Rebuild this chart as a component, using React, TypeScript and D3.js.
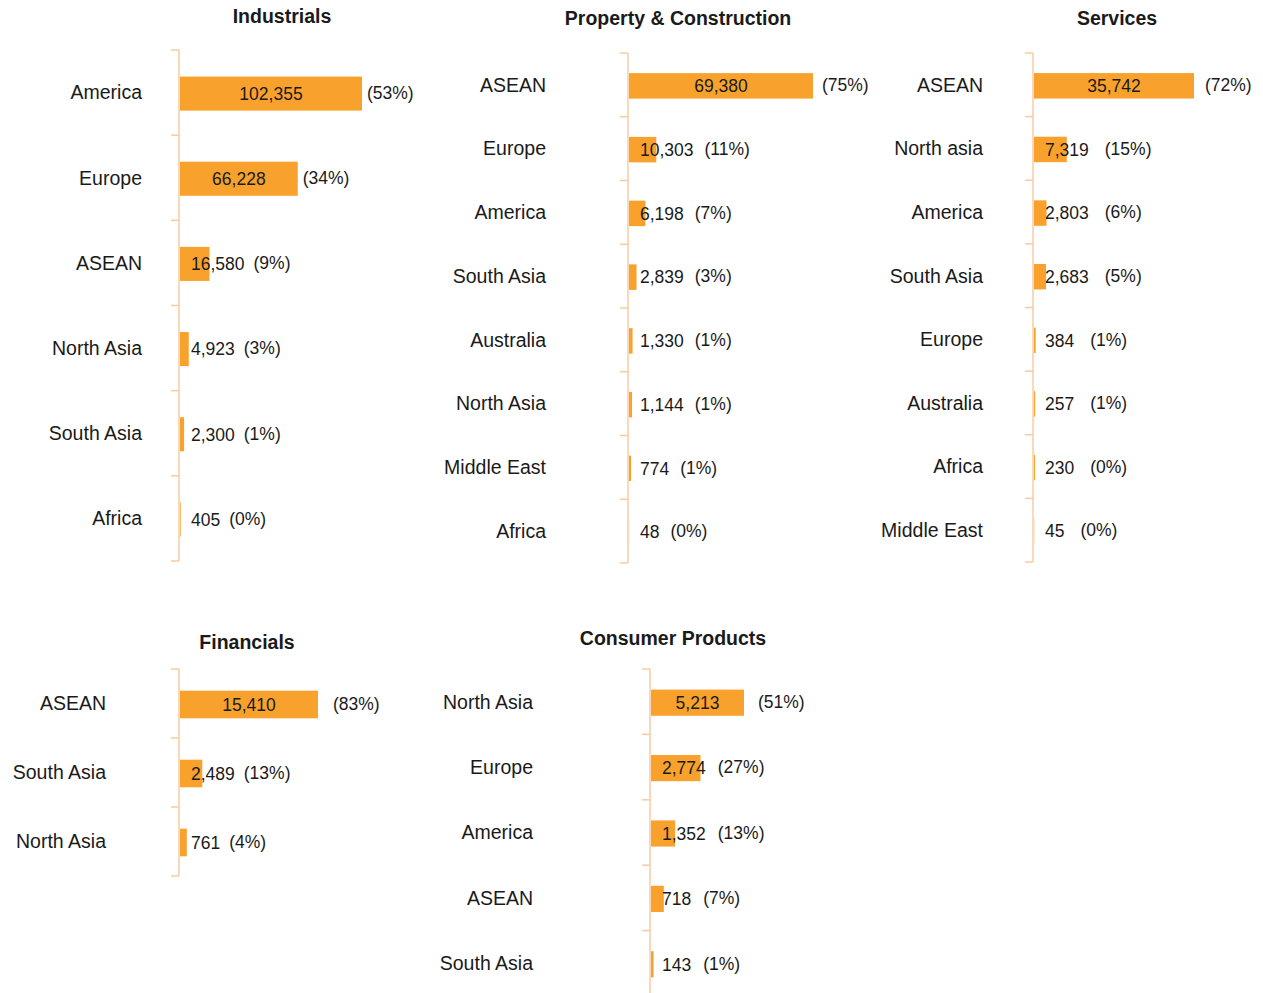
import React from "react";
import * as d3 from "d3";

// ---------- Data ----------
const industrialsCats = ["America", "Europe", "ASEAN", "North Asia", "South Asia", "Africa"];
const industrialsVals = [102355, 66228, 16580, 4923, 2300, 405];
const industrialsPct = ["53%", "34%", "9%", "3%", "1%", "0%"];

const propertyCats = ["ASEAN", "Europe", "America", "South Asia", "Australia", "North Asia", "Middle East", "Africa"];
const propertyVals = [69380, 10303, 6198, 2839, 1330, 1144, 774, 48];
const propertyPct = ["75%", "11%", "7%", "3%", "1%", "1%", "1%", "0%"];

const servicesCats = ["ASEAN", "North asia", "America", "South Asia", "Europe", "Australia", "Africa", "Middle East"];
const servicesVals = [35742, 7319, 2803, 2683, 384, 257, 230, 45];
const servicesPct = ["72%", "15%", "6%", "5%", "1%", "1%", "0%", "0%"];

const financialsCats = ["ASEAN", "South Asia", "North Asia"];
const financialsVals = [15410, 2489, 761];
const financialsPct = ["83%", "13%", "4%"];

const consumerCats = ["North Asia", "Europe", "America", "ASEAN", "South Asia"];
const consumerVals = [5213, 2774, 1352, 718, 143];
const consumerPct = ["51%", "27%", "13%", "7%", "1%"];

// ---------- Layout (styles / positions) ----------
type Panel = {
  title: string;
  cats: string[];
  vals: number[];
  pct: string[];
  axisX: number;
  yTop: number;
  yBottom: number;
  maxW: number;
  labelX: number;
  titleX: number;
  titleY: number;
  gapBar: number;
  gapVal: number;
};

const panels: Panel[] = [
  { title: "Industrials", cats: industrialsCats, vals: industrialsVals, pct: industrialsPct,
    axisX: 180, yTop: 50, yBottom: 561, maxW: 182, labelX: 142, titleX: 282, titleY: 23, gapBar: 5, gapVal: 9 },
  { title: "Property & Construction", cats: propertyCats, vals: propertyVals, pct: propertyPct,
    axisX: 629, yTop: 53, yBottom: 563, maxW: 184, labelX: 546, titleX: 678, titleY: 25, gapBar: 9, gapVal: 11 },
  { title: "Services", cats: servicesCats, vals: servicesVals, pct: servicesPct,
    axisX: 1034, yTop: 53, yBottom: 562, maxW: 160, labelX: 983, titleX: 1117, titleY: 25, gapBar: 11, gapVal: 16 },
  { title: "Financials", cats: financialsCats, vals: financialsVals, pct: financialsPct,
    axisX: 180, yTop: 669, yBottom: 876, maxW: 138, labelX: 106, titleX: 247, titleY: 649, gapBar: 15, gapVal: 9 },
  { title: "Consumer Products", cats: consumerCats, vals: consumerVals, pct: consumerPct,
    axisX: 651, yTop: 669, yBottom: 996, maxW: 93, labelX: 533, titleX: 673, titleY: 645, gapBar: 14, gapVal: 12 },
];

const FONT = "'Liberation Sans', Arial, sans-serif";
const BAR = "#F8A22D";
const AXIS = "#F9CBA3";
const TEXT = "#1a1a1a";
const VAL_SIZE = 17.5;
const CAT_SIZE = 19.5;
const TITLE_SIZE = 19.5;

let ctx: CanvasRenderingContext2D | null = null;
function textW(s: string, size: number): number {
  if (!ctx) {
    const c = document.createElement("canvas");
    ctx = c.getContext("2d");
  }
  if (!ctx) return s.length * size * 0.55;
  ctx.font = `${size}px ${FONT}`;
  return ctx.measureText(s).width;
}

const fmt = d3.format(",");

function PanelView({ p }: { p: Panel }) {
  const y = d3.scaleBand<string>().domain(p.cats).range([p.yTop, p.yBottom]).paddingInner(0.6).paddingOuter(0.3);
  const step = y.step();
  const x = d3.scaleLinear().domain([0, d3.max(p.vals) as number]).range([0, p.maxW]);
  const ticks = d3.range(p.cats.length + 1).map((i) => p.yTop + i * step);
  return (
    <g>
      <text x={p.titleX} y={p.titleY} textAnchor="middle" fontWeight="bold" fontSize={TITLE_SIZE} fill={TEXT}>
        {p.title}
      </text>
      <line x1={p.axisX - 1} x2={p.axisX - 1} y1={p.yTop} y2={p.yBottom} stroke={AXIS} strokeWidth={1.5} />
      {ticks.map((t, i) => (
        <line key={i} x1={p.axisX - 9} x2={p.axisX - 1} y1={t} y2={t} stroke={AXIS} strokeWidth={1.5} />
      ))}
      {p.cats.map((c, i) => {
        const v = p.vals[i];
        const by = (y(c) as number) + 1;
        const bh = y.bandwidth();
        const cy = by + bh / 2;
        const bw = x(v);
        const label = fmt(v);
        const lw = textW(label, VAL_SIZE);
        const lStart = Math.max(p.axisX + bw / 2 - lw / 2, p.axisX + 11);
        const lEnd = lStart + lw;
        const pctX = Math.max(p.axisX + bw + p.gapBar, lEnd + p.gapVal);
        return (
          <g key={c}>
            <text x={p.labelX} y={cy} dy="0.3em" textAnchor="end" fontSize={CAT_SIZE} fill={TEXT}>
              {c}
            </text>
            <rect x={p.axisX} y={by} width={bw} height={bh} fill={BAR} />
            <text x={lStart} y={cy} dy="0.36em" fontSize={VAL_SIZE} fill={TEXT}>
              {label}
            </text>
            <text x={pctX} y={cy} dy="0.3em" fontSize={VAL_SIZE} fill={TEXT}>
              ({p.pct[i]})
            </text>
          </g>
        );
      })}
    </g>
  );
}

export default function App() {
  return (
    <svg
      width={1263}
      height={993}
      style={{ position: "absolute", left: 0, top: 0, background: "#fff" }}
      fontFamily={FONT}
    >
      <rect width={1263} height={993} fill="#fff" />
      {panels.map((p) => (
        <PanelView key={p.title} p={p} />
      ))}
    </svg>
  );
}
